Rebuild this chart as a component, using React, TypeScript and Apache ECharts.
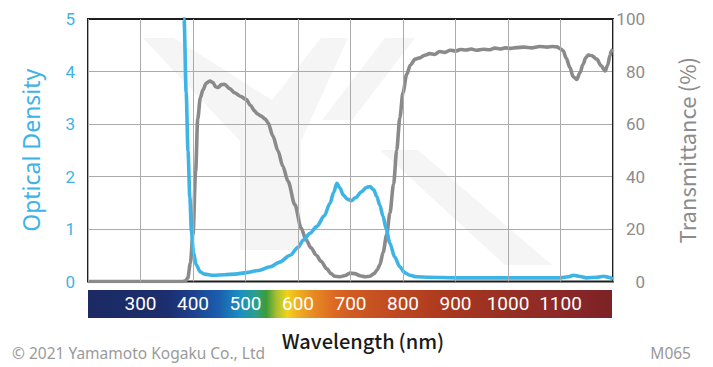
import React, { useEffect, useRef } from "react";
import * as echarts from "echarts";

// Optical density curve (left axis)
const odWavelengths = [378, 383, 387, 390.5, 394, 397, 401, 406, 414, 422, 439, 460, 480, 502, 525, 547, 565, 585, 600, 610, 623, 636, 650, 661, 668, 674, 680, 686, 694, 702, 710, 721, 730, 737, 744, 750, 756, 762, 768, 775, 784, 794, 803, 813, 825, 850, 900, 950, 1000, 1050, 1100, 1115, 1125, 1135, 1150, 1170, 1182, 1192, 1200];
const odValues = [6, 5.0, 3.6, 2.48, 1.6, 0.96, 0.55, 0.32, 0.18, 0.14, 0.12, 0.13, 0.14, 0.17, 0.21, 0.28, 0.37, 0.5, 0.65, 0.79, 0.92, 1.05, 1.25, 1.49, 1.7, 1.87, 1.78, 1.65, 1.57, 1.54, 1.6, 1.71, 1.79, 1.81, 1.75, 1.62, 1.45, 1.24, 1.0, 0.73, 0.47, 0.28, 0.17, 0.12, 0.09, 0.08, 0.07, 0.07, 0.07, 0.07, 0.07, 0.09, 0.12, 0.1, 0.07, 0.08, 0.1, 0.08, 0.04];

// Transmittance curve (right axis)
const tWavelengths = [200, 380, 386, 390, 395, 400, 405, 409, 414, 419, 425, 432, 438, 443, 448, 454, 460, 470, 479, 490, 501, 510, 517, 523, 530, 537, 543, 552, 562, 571, 581, 594, 606, 615, 625, 635, 644, 655, 663, 670, 680, 690, 699, 708, 718, 728, 737, 745, 751, 756, 762, 769, 775, 782, 788, 794, 800, 807, 814, 823, 832, 840, 851, 860, 870, 880, 890, 900, 910, 920, 930, 940, 953, 965, 975, 985, 995, 1005, 1016, 1030, 1045, 1060, 1075, 1085, 1093, 1100, 1105, 1111, 1118, 1124, 1131, 1137, 1143, 1148, 1153, 1160, 1169, 1177, 1185, 1190, 1194, 1197, 1200];
const tValues = [0, 0, 0.3, 1.3, 7, 18, 42, 62, 70, 73, 75.5, 76.4, 75.8, 74.2, 73.9, 75, 75.1, 73.5, 71.9, 70.6, 69.4, 67, 65, 63.8, 63, 62, 60.5, 55.5, 49.7, 44, 38.2, 29.3, 20.4, 16, 12.8, 10, 7.7, 4.8, 3, 2, 1.8, 2.3, 3.2, 3, 2.2, 1.8, 2, 3, 4.5, 6.4, 11, 17.9, 26, 37, 50, 62.4, 72, 78.9, 82.5, 84.7, 85.2, 86.1, 86.8, 86.5, 87.6, 87.3, 88.1, 87.8, 88.4, 88.2, 88.6, 88.1, 88.5, 88.3, 88.9, 88.6, 89.0, 88.8, 89.1, 89.3, 89.0, 89.5, 89.3, 89.5, 89.4, 88.6, 87.9, 85, 81.5, 78, 77, 79.5, 82.7, 85.2, 86.3, 86, 84.7, 82.3, 80.2, 82.5, 86, 87.9, 88.5];

const xTicks = [300, 400, 500, 600, 700, 800, 900, 1000, 1100];

const BLUE = "#3db4e5";
const GRAY = "#8a8a8a";

export default function App() {
  const ref = useRef<HTMLDivElement>(null);
  useEffect(() => {
    if (!ref.current) return;
    const chart = echarts.init(ref.current, undefined, { renderer: "svg" });
    const wm = "#f5f5f5";
    chart.setOption({
      animation: false,
      backgroundColor: "#ffffff",
      grid: {
        left: 88,
        right: 100,
        top: 19,
        bottom: 85.5,
        show: true,
        borderColor: "#1e1e1e",
        borderWidth: 2,
        backgroundColor: "transparent",
        z: 3,
      },
      graphic: [
        // faint watermark
        {
          type: "polygon",
          z: -20,
          silent: true,
          shape: { points: [[143, 38], [174, 38], [272, 100], [321, 38], [348, 38], [301, 141], [301, 250], [240, 250], [240, 141]] },
          style: { fill: wm },
        },
        {
          type: "polygon",
          z: -20,
          silent: true,
          shape: { points: [[385, 38], [415, 38], [352, 120], [322, 120]] },
          style: { fill: wm },
        },
        {
          type: "polygon",
          z: -20,
          silent: true,
          shape: { points: [[380, 150], [418, 150], [552, 265], [505, 265]] },
          style: { fill: wm },
        },
        // spectrum bar
        {
          type: "rect",
          z: -10,
          silent: true,
          shape: { x: 88, y: 290, width: 524, height: 28 },
          style: {
            fill: new echarts.graphic.LinearGradient(0, 0, 1, 0, [
              { offset: 0, color: "#1b2a63" },
              { offset: 0.15, color: "#1c2e6e" },
              { offset: 0.2, color: "#1e3f8f" },
              { offset: 0.25, color: "#1a5fae" },
              { offset: 0.29, color: "#1b8fc4" },
              { offset: 0.32, color: "#2aa08a" },
              { offset: 0.34, color: "#3c9c3a" },
              { offset: 0.36, color: "#a8c030" },
              { offset: 0.38, color: "#f0d21c" },
              { offset: 0.4, color: "#f0b020" },
              { offset: 0.43, color: "#e88a24" },
              { offset: 0.47, color: "#dc6a22" },
              { offset: 0.5, color: "#d05c22" },
              { offset: 0.6, color: "#bc4620" },
              { offset: 0.7, color: "#a8361f" },
              { offset: 0.8, color: "#963024" },
              { offset: 0.9, color: "#8c2828" },
              { offset: 1, color: "#7c2226" },
            ]),
          },
        },
        {
          type: "text",
          x: 363,
          y: 340,
          style: {
            text: "Wavelength\u2009(nm)",
            fontSize: 20,
            fontWeight: 500,
            fontFamily: "Noto Sans CJK JP",
            fill: "#1a1a1a",
            textAlign: "center",
            textVerticalAlign: "middle",
          },
        },
        {
          type: "text",
          x: 12,
          y: 353,
          style: {
            text: "© 2021 Yamamoto Kogaku Co., Ltd",
            fontSize: 15.5,
            fontFamily: "Noto Sans",
            fill: "#9a9a9a",
            textAlign: "left",
            textVerticalAlign: "middle",
          },
        },
        {
          type: "text",
          x: 691,
          y: 353,
          style: {
            text: "M065",
            fontSize: 15.5,
            fontFamily: "Noto Sans",
            fill: "#9a9a9a",
            textAlign: "right",
            textVerticalAlign: "middle",
          },
        },
      ],
      xAxis: {
        type: "value",
        min: 200,
        max: 1200,
        interval: 100,
        z: 5,
        axisLine: { show: false },
        axisTick: { show: false },
        splitLine: { show: true, lineStyle: { color: "#ababab", width: 1 } },
        axisLabel: {
          color: "#ffffff",
          fontSize: 19,
          fontFamily: "Roboto",
          margin: 12,
          showMinLabel: false,
          showMaxLabel: false,
          formatter: (v: number) => (xTicks.includes(v) ? String(v) : ""),
        },
      },
      yAxis: [
        {
          type: "value",
          min: 0,
          max: 5,
          interval: 1,
          position: "left",
          axisLine: { show: false },
          axisTick: { show: false },
          splitLine: { show: true, lineStyle: { color: "#ababab", width: 1 } },
          axisLabel: { color: BLUE, fontSize: 17, fontFamily: "Roboto", margin: 13 },
          name: "Optical Density",
          nameLocation: "middle",
          nameGap: 46,
          nameRotate: 90,
          nameTextStyle: { color: BLUE, fontSize: 23, fontFamily: "Noto Sans" },
        },
        {
          type: "value",
          min: 0,
          max: 100,
          interval: 20,
          position: "right",
          axisLine: { show: false },
          axisTick: { show: false },
          splitLine: { show: false },
          axisLabel: { color: "#8c8c8c", fontSize: 17, fontFamily: "Roboto", margin: 32, align: "right" },
          name: "Transmittance\u2009(%)",
          nameLocation: "middle",
          nameGap: 62,
          nameRotate: 90,
          nameTextStyle: { color: "#8c8c8c", fontSize: 22, fontFamily: "Noto Sans CJK JP" },
        },
      ],
      series: [
        {
          type: "line",
          yAxisIndex: 1,
          data: tWavelengths.map((w, i) => [w, tValues[i]]),
          showSymbol: false,
          smooth: 0.3,
          smoothMonotone: "x",
          clip: true,
          lineStyle: { color: GRAY, width: 3.6 },
          itemStyle: { color: GRAY },
          z: 4,
        },
        {
          type: "line",
          yAxisIndex: 0,
          data: odWavelengths.map((w, i) => [w, odValues[i]]),
          showSymbol: false,
          smooth: 0.3,
          smoothMonotone: "x",
          clip: true,
          lineStyle: { color: BLUE, width: 3.6 },
          itemStyle: { color: BLUE },
          z: 4,
        },
      ],
    });
    return () => chart.dispose();
  }, []);
  return (
    <div
      ref={ref}
      style={{ position: "fixed", left: 0, top: 0, width: 713, height: 367 }}
    />
  );
}
